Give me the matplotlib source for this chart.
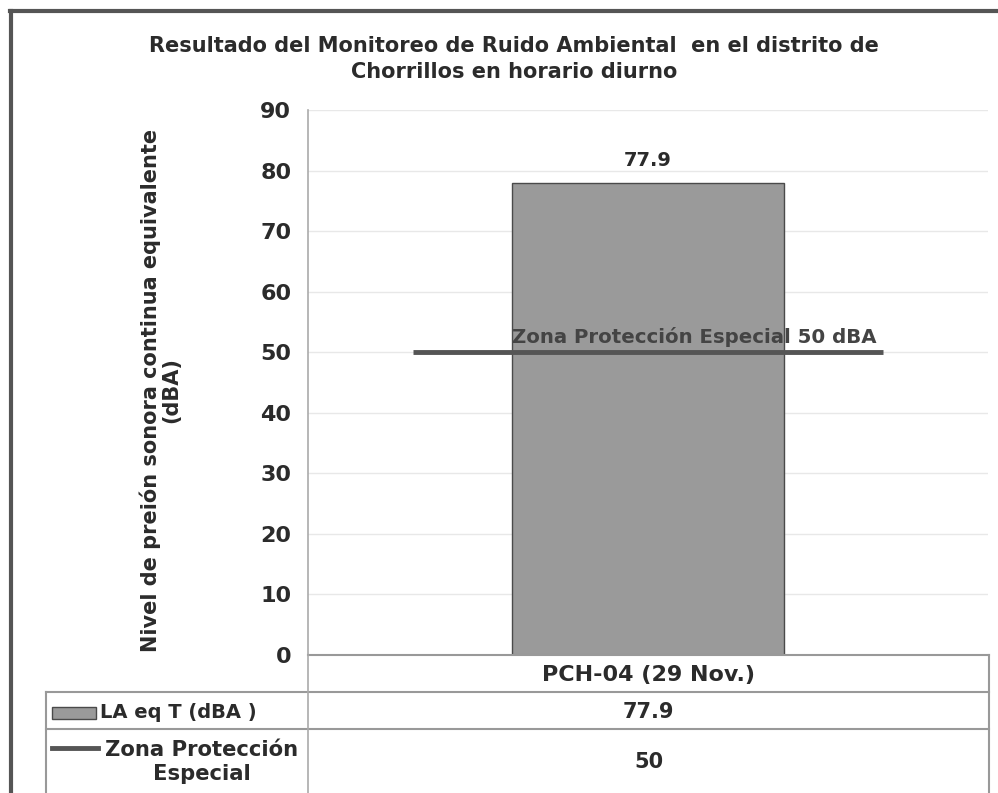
import matplotlib
matplotlib.use("Agg")
import matplotlib.pyplot as plt
from matplotlib.lines import Line2D
from matplotlib.patches import Rectangle

plt.rcParams['font.family'] = ['DejaVu Sans']

# ---- data ----
categories = ["PCH-04 (29 Nov.)"]
laeq_values = [77.9]
limit_values = [50]
series_names = ["LA eq T (dBA )", "Zona Protección\nEspecial"]
limit_label = "Zona Protección Especial 50 dBA"
title = "Resultado del Monitoreo de Ruido Ambiental  en el distrito de\nChorrillos en horario diurno"
ylabel = "Nivel de preión sonora continua equivalente\n(dBA)"
yticks = [0, 10, 20, 30, 40, 50, 60, 70, 80, 90]

W, H = 998, 793
fig = plt.figure(figsize=(W / 100, H / 100), dpi=100)

def fx(x):
    return x / W

def fy(y):
    return 1 - y / H

TXT = "#2b2b2b"
GRID = "#999999"
BAR = "#9a9a9a"
LINE = "#555555"

# axes placement
axL, axR, axT, axB = 308, 988, 110, 655
ax = fig.add_axes([fx(axL), fy(axB), fx(axR) - fx(axL), fy(axT) - fy(axB)])
ax.set_xlim(-0.5, len(categories) - 0.5)
ax.set_ylim(0, 90)

xs = list(range(len(categories)))
ax.bar(xs, laeq_values, width=0.4, color=BAR, edgecolor="#4a4a4a", linewidth=1.0, zorder=3)
for x, v in zip(xs, laeq_values):
    ax.text(x, v + 2.2, f"{v}", ha="center", va="bottom", fontsize=14, fontweight="bold", color=TXT)

for x, v in zip(xs, limit_values):
    ax.hlines(v, x - 0.345, x + 0.345, color=LINE, linewidth=3.5, zorder=4)
    ax.text(x - 0.2, v + 0.9, limit_label, ha="left", va="bottom", fontsize=14.2,
            fontweight="bold", color="#444444", zorder=5)

ax.set_yticks(yticks)
ax.set_yticklabels([str(t) for t in yticks], fontsize=16, fontweight="bold", color=TXT)
ax.tick_params(axis="y", length=0, pad=12)
ax.set_xticks([])
ax.grid(axis="y", color="#e8e8e8", linewidth=1.0, zorder=0)
ax.set_axisbelow(True)
for s in ["top", "right"]:
    ax.spines[s].set_visible(False)
ax.spines["left"].set_color("#aaaaaa")
ax.spines["bottom"].set_color(GRID)
ax.spines["left"].set_linewidth(1.2)
ax.spines["bottom"].set_linewidth(1.2)

# title and y label
fig.text(fx(514), fy(59), title, ha="center", va="center", fontsize=15,
         fontweight="bold", color=TXT, linespacing=1.35)
fig.text(fx(160), fy(390), ylabel, ha="center", va="center", rotation=90,
         fontsize=15, fontweight="bold", color=TXT, linespacing=1.0)

# ---- data table below axes ----
tl = dict(color=GRID, linewidth=1.5)
tabL, tabR = 46, 989
fig.add_artist(Line2D([fx(axL), fx(tabR)], [fy(655), fy(655)], **tl))
fig.add_artist(Line2D([fx(tabL), fx(tabR)], [fy(692), fy(692)], **tl))
fig.add_artist(Line2D([fx(tabL), fx(tabR)], [fy(729), fy(729)], **tl))
fig.add_artist(Line2D([fx(tabR), fx(tabR)], [fy(655), fy(793)], **tl))
fig.add_artist(Line2D([fx(tabL), fx(tabL)], [fy(692), fy(793)], **tl))
fig.add_artist(Line2D([fx(axL), fx(axL)], [fy(655), fy(793)], color="#aaaaaa", linewidth=1.2))

col_x = (axL + tabR) / 2
fig.text(fx(col_x), fy(675), categories[0], ha="center", va="center",
         fontsize=16, fontweight="bold", color=TXT)
fig.text(fx(col_x), fy(712), f"{laeq_values[0]}", ha="center", va="center",
         fontsize=15, fontweight="bold", color=TXT)
fig.text(fx(col_x), fy(762), f"{limit_values[0]}", ha="center", va="center",
         fontsize=15, fontweight="bold", color=TXT)

# legend keys in table
fig.add_artist(Rectangle((fx(52), fy(719)), fx(96) - fx(52), fy(707) - fy(719),
                         facecolor=BAR, edgecolor="#4a4a4a", linewidth=1.0))
fig.text(fx(100), fy(712), series_names[0], ha="left", va="center",
         fontsize=14, fontweight="bold", color=TXT)
fig.add_artist(Line2D([fx(52), fx(98)], [fy(748), fy(748)], color=LINE, linewidth=3.5))
fig.text(fx(202), fy(762), series_names[1], ha="center", va="center",
         fontsize=15.2, fontweight="bold", color=TXT, linespacing=1.2)

# outer frame
fig.add_artist(Line2D([fx(10), fx(998)], [fy(11), fy(11)], color="#555555", linewidth=3))
fig.add_artist(Line2D([fx(11), fx(11)], [fy(11), fy(793)], color="#555555", linewidth=3))

fig.savefig("out.png", dpi=100, facecolor="white")
